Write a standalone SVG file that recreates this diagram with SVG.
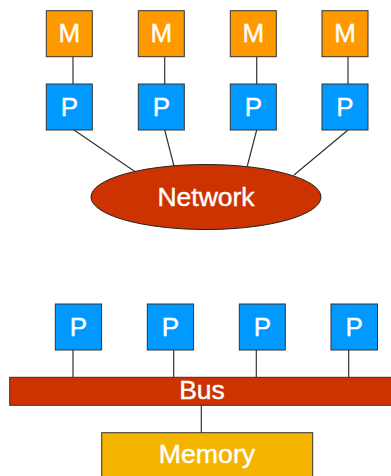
<svg xmlns="http://www.w3.org/2000/svg" width="391" height="476" viewBox="0 0 391 476">
<style>
.m{fill:#FF9900;stroke:#333;stroke-width:1}
.p{fill:#0099FF;stroke:#333;stroke-width:1}
.net{fill:#CC3300;stroke:#222;stroke-width:1}
.bus{fill:#CC3300;stroke:#333;stroke-width:1}
.mem{fill:#F4B400;stroke:#333;stroke-width:1}
.t{font-family:"Liberation Sans",Arial,sans-serif;fill:#fff;stroke:#fff;stroke-width:0.4;text-anchor:middle;font-size:26px}
.c line{stroke:#333;stroke-width:1.2}
</style>
<rect width="391" height="476" fill="#fff"/>
<g class="c" id="connectors">
<line x1="73" y1="57" x2="73" y2="84"/>
<line x1="164.7" y1="57" x2="164.7" y2="84"/>
<line x1="256.7" y1="57" x2="256.7" y2="84"/>
<line x1="348" y1="57" x2="348" y2="84"/>
<line x1="74" y1="130" x2="137" y2="173"/>
<line x1="164.7" y1="130" x2="174" y2="166"/>
<line x1="256.7" y1="130" x2="247.3" y2="166"/>
<line x1="348" y1="130" x2="294" y2="175"/>
<line x1="73" y1="350" x2="73" y2="377"/>
<line x1="173.7" y1="350" x2="173.7" y2="377"/>
<line x1="256.3" y1="350" x2="256.3" y2="377"/>
<line x1="348.7" y1="350" x2="348.7" y2="377"/>
<line x1="201.3" y1="405" x2="201.3" y2="433"/>
</g>
<g id="m1"><rect class="m" x="46.3" y="10.7" width="46" height="46"/><text class="t" x="69.3" y="42.3">M</text></g>
<g id="m2"><rect class="m" x="138.3" y="10.7" width="46" height="46"/><text class="t" x="161.3" y="42.3">M</text></g>
<g id="m3"><rect class="m" x="230.3" y="10.7" width="46" height="46"/><text class="t" x="253.3" y="42.3">M</text></g>
<g id="m4"><rect class="m" x="322" y="10.7" width="46" height="46"/><text class="t" x="345" y="42.3">M</text></g>
<g id="p1"><rect class="p" x="46.3" y="84" width="46" height="46"/><text class="t" x="69.3" y="116">P</text></g>
<g id="p2"><rect class="p" x="138.3" y="84" width="46" height="46"/><text class="t" x="161.3" y="116">P</text></g>
<g id="p3"><rect class="p" x="230.3" y="84" width="46" height="46"/><text class="t" x="253.3" y="116">P</text></g>
<g id="p4"><rect class="p" x="322" y="84" width="46" height="46"/><text class="t" x="345" y="116">P</text></g>
<g id="network"><ellipse class="net" cx="206" cy="197" rx="115" ry="32.5"/><text class="t" x="206" y="206" style="font-size:26.5px">Network</text></g>
<g id="bp1"><rect class="p" x="55.3" y="304" width="46.3" height="46"/><text class="t" x="78.5" y="336">P</text></g>
<g id="bp2"><rect class="p" x="147.3" y="304" width="46.3" height="46"/><text class="t" x="170.5" y="336">P</text></g>
<g id="bp3"><rect class="p" x="239.3" y="304" width="46" height="46"/><text class="t" x="262.3" y="336">P</text></g>
<g id="bp4"><rect class="p" x="331" y="304" width="46.5" height="46"/><text class="t" x="354.2" y="336">P</text></g>
<g id="bus"><rect class="bus" x="9.7" y="377.3" width="390" height="28"/><text class="t" x="202" y="399.3" style="font-size:26.5px">Bus</text></g>
<g id="memory"><rect class="mem" x="101.7" y="432.7" width="211" height="60"/><text class="t" x="207" y="463.3" style="font-size:26.7px">Memory</text></g>
</svg>
